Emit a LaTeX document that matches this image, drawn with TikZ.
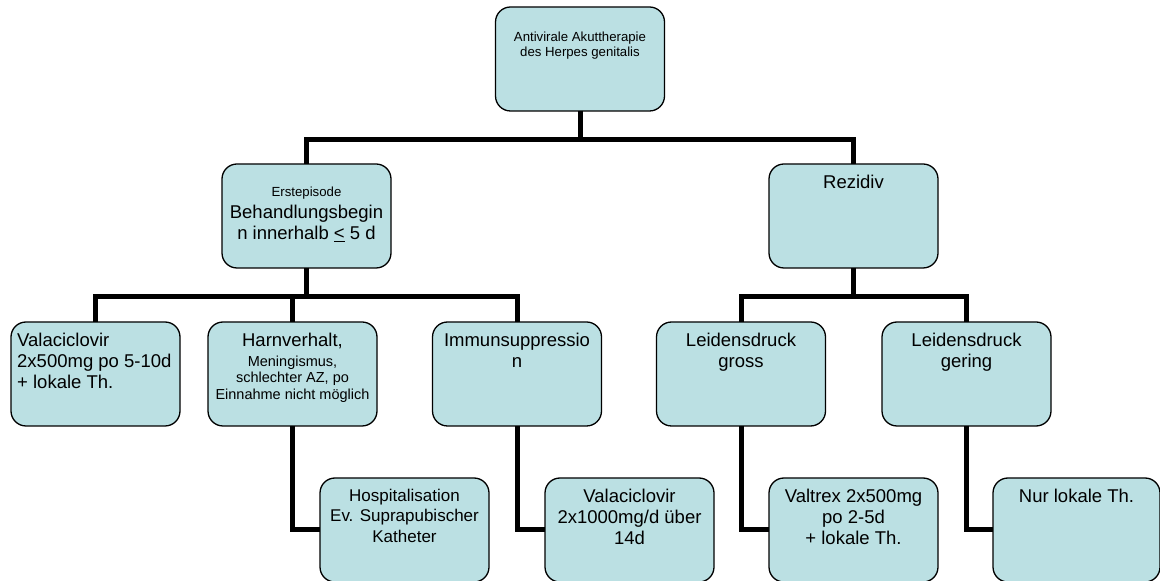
\documentclass[tikz,border=0pt]{standalone}
\usepackage{fontspec}
\setmainfont{Liberation Sans}
\usetikzlibrary{positioning}
\definecolor{boxfill}{RGB}{187,224,227}
\newcommand{\bigtxt}{\fontsize{18.5}{21.3}\selectfont}
\newcommand{\hosptxt}{\fontsize{17}{20.3}\selectfont}
\newcommand{\midtxt}{\fontsize{14.5}{16.5}\selectfont}
\newcommand{\smalltxt}{\fontsize{13.2}{15}\selectfont}

\begin{document}
\begin{tikzpicture}[x=1pt, y=1pt, every node/.style={font=\bigtxt}]
  \tikzstyle{box}=[draw, line width=1.3pt, rounded corners=15pt, fill=boxfill, minimum width=169pt, minimum height=104pt, outer sep=0pt]
  \tikzstyle{txt}=[align=center, inner sep=0pt, anchor=north]
  \tikzstyle{conn}=[line width=5pt]
  \useasboundingbox (0,0) rectangle (1160,581);
  % boxes
  \node[box] (top) at (580,522) {};
  \node[box] (erst) at (306.5,365) {};
  \node[box] (rez) at (853.5,365) {};
  \node[box] (valA) at (95.5,207) {};
  \node[box] (harn) at (292.5,207) {};
  \node[box] (imm) at (517,207) {};
  \node[box] (lgross) at (741,207) {};
  \node[box] (lgering) at (966.5,207) {};
  \node[box] (hosp) at (404.5,51) {};
  \node[box] (valB) at (629.5,51) {};
  \node[box] (valtrex) at (853.5,51) {};
  \node[box, minimum width=167pt] (nur) at (1076.5,51) {};
  % texts
  \node[txt, below=25pt of top.north, font=\smalltxt] (top-t) {Antivirale Akuttherapie\\des Herpes genitalis};
  \node[txt, below=23pt of erst.north] (erst-t) {{\smalltxt Erstepisode}\\Behandlungsbegin\\n innerhalb \underline{<} 5 d};
  \node[txt, below=11pt of rez.north] (rez-t) {Rezidiv};
  \node[txt, anchor=north west, align=left] (valA-t) at ([xshift=6pt, yshift=-10.5pt]valA.north west) {Valaciclovir\\2x500mg po 5-10d\\+ lokale Th.};
  \node[txt, below=10.5pt of harn.north, font=\midtxt] (harn-t) {{\bigtxt Harnverhalt,}\\[3.5pt]Meningismus,\\schlechter AZ, po\\Einnahme nicht möglich};
  \node[txt, below=10.5pt of imm.north] (imm-t) {Immunsuppressio\\n};
  \node[txt, below=10.5pt of lgross.north] (lgross-t) {Leidensdruck\\gross};
  \node[txt, below=10.5pt of lgering.north] (lgering-t) {Leidensdruck\\gering};
  \node[txt, below=11pt of hosp.north, font=\hosptxt] (hosp-t) {Hospitalisation\\Ev. Suprapubischer\\Katheter};
  \node[txt, below=10.5pt of valB.north] (valB-t) {Valaciclovir\\2x1000mg/d über\\14d};
  \node[txt, below=10.5pt of valtrex.north] (valtrex-t) {Valtrex 2x500mg\\po 2-5d\\+ lokale Th.};
  \node[txt, below=10.5pt of nur.north] (nur-t) {Nur lokale Th.};
  % connectors
  \coordinate (rail1) at (580,441);
  \coordinate (railL) at (306.5,284);
  \coordinate (railR) at (853.5,284);
  \draw[conn] (top) -- (rail1);
  \draw[conn] (erst.north) |- (rail1) -| (rez.north);
  \draw[conn] (erst) -- (railL);
  \draw[conn] (valA.north) |- (railL) -| (imm.north);
  \draw[conn] (harn.north) -- (harn.north |- railL);
  \draw[conn] (rez) -- (railR);
  \draw[conn] (lgross.north) |- (railR) -| (lgering.north);
  \draw[conn] (harn.south) |- (hosp.west);
  \draw[conn] (imm.south) |- (valB.west);
  \draw[conn] (lgross.south) |- (valtrex.west);
  \draw[conn] (lgering.south) |- (nur.west);
\end{tikzpicture}
\end{document}
